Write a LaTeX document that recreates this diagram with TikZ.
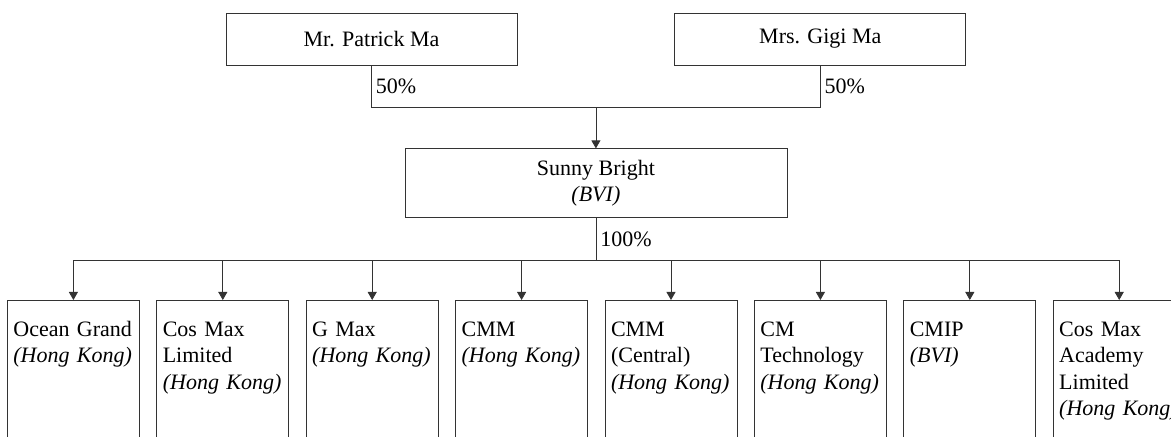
\documentclass[tikz,border=0pt]{standalone}
\usepackage{fontspec}
\setmainfont{Liberation Serif}
\usetikzlibrary{arrows.meta, positioning, calc}
\newcommand{\chartfont}{\fontsize{11}{13.25}\selectfont}

\begin{document}
\begin{tikzpicture}[
        x=0.5pt, y=0.5pt,
        owner/.style={rectangle, draw=black!80, minimum width=145.5pt, minimum height=26pt, font=\chartfont},
        holding/.style={rectangle, draw=black!80, minimum width=191pt, minimum height=34.5pt, align=center, font=\chartfont},
        unit/.style={rectangle, draw=black!80, text width=60pt, align=left, inner xsep=3pt, inner ysep=3pt, text height=15pt, text depth=100pt, font=\chartfont},
        link/.style={draw=black!80},
        relation/.style={-{Triangle[width=4.5pt, length=4pt]}, draw=black!80},
        share/.style={right, inner sep=2pt, font=\chartfont}
        ]
        \useasboundingbox (0,0) rectangle (1171,437);
        \clip (0,0) rectangle (1171,437);

        % Shareholders
        \node[owner] (patrick) at (371.5,398) {Mr. Patrick Ma};
        \node[owner, right=78.5pt of patrick] (gigi) {Mrs. Gigi Ma};
        \coordinate (ownmid) at ($(patrick.south)!0.5!(gigi.south)$);
        \coordinate[below=21pt of ownmid] (ownjoin);

        % Holding company
        \node[holding, below=20.5pt of ownjoin] (sunny) {Sunny Bright\\\textit{(BVI)}};
        \coordinate[below=21pt of sunny.south] (subjoin);

        % Subsidiaries
        \node[unit, anchor=north west] (ocean) at (7,137) {Ocean Grand\\\textit{(Hong Kong)}};
        \node[unit, right=8.3pt of ocean] (cosmax) {Cos Max\\Limited\\\textit{(Hong Kong)}};
        \node[unit, right=8.3pt of cosmax] (gmax) {G Max\\\textit{(Hong Kong)}};
        \node[unit, right=8.3pt of gmax] (cmm) {CMM\\\textit{(Hong Kong)}};
        \node[unit, right=8.3pt of cmm] (central) {CMM\\(Central)\\\textit{(Hong Kong)}};
        \node[unit, right=8.3pt of central] (cmtech) {CM\\Technology\\\textit{(Hong Kong)}};
        \node[unit, right=8.3pt of cmtech] (cmip) {CMIP\\\textit{(BVI)}};
        \node[unit, right=8.3pt of cmip] (academy) {Cos Max\\Academy\\Limited\\\textit{(Hong Kong)}};

        % Shareholdings
        \draw[link] (patrick.south) -- node[share] {50\%} (patrick.south |- ownjoin) -- (gigi.south |- ownjoin) -- node[share] {50\%} (gigi.south);
        \draw[relation] (ownjoin) -- (sunny);
        \draw[link] (sunny) -- node[share] {100\%} (subjoin);
        \draw[link] (ocean.north |- subjoin) -- (academy.north |- subjoin);
        \draw[relation] (ocean.north |- subjoin) -- (ocean);
        \draw[relation] (cosmax.north |- subjoin) -- (cosmax);
        \draw[relation] (gmax.north |- subjoin) -- (gmax);
        \draw[relation] (cmm.north |- subjoin) -- (cmm);
        \draw[relation] (central.north |- subjoin) -- (central);
        \draw[relation] (cmtech.north |- subjoin) -- (cmtech);
        \draw[relation] (cmip.north |- subjoin) -- (cmip);
        \draw[relation] (academy.north |- subjoin) -- (academy);
\end{tikzpicture}
\end{document}
